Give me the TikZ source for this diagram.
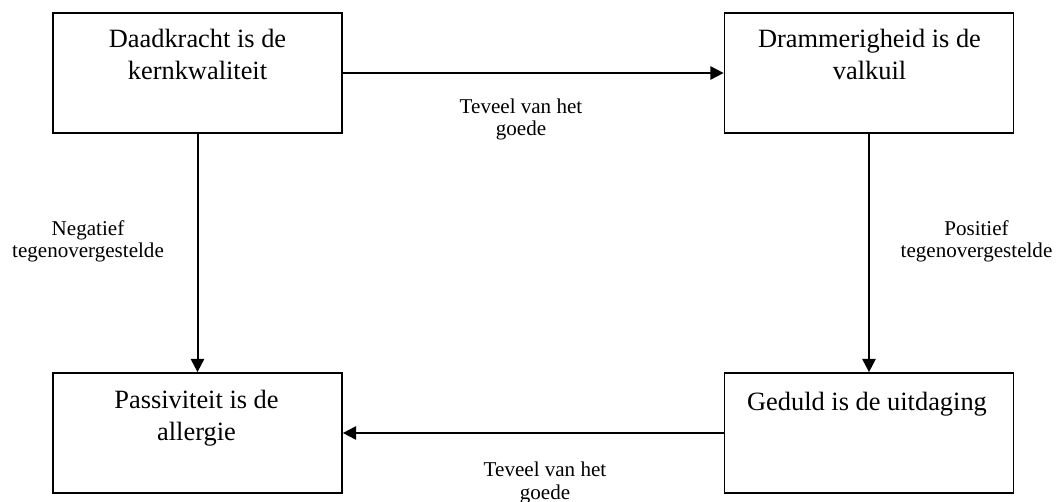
\documentclass[tikz,border=0pt]{standalone}
\usepackage{fontspec}
\setmainfont{Liberation Serif}
\usetikzlibrary{arrows.meta}
\begin{document}
\begin{tikzpicture}[x=0.75pt,y=-0.75pt,
  box/.style={draw, line width=1.3pt, minimum width=216.75pt, minimum height=90pt, inner sep=0pt},
  boxtext/.style={anchor=base, align=center, inner sep=0pt, font=\fontsize{19.8}{24}\selectfont},
  lbl/.style={anchor=base, align=center, inner sep=0pt, font=\fontsize{15.8}{17}\selectfont},
  conn/.style={line width=1.5pt, -{Triangle[length=10pt,width=10pt]}}]
\path[use as bounding box, fill=white] (0,0) rectangle (1057,502);
\node[box] (kern) at (197.5,73) {};
\node[box] (valk) at (869,73) {};
\node[box] (aller) at (197.5,433) {};
\node[box] (uitd) at (869,433) {};
\node[boxtext] (t1) at (197.5,80) {Daadkracht is de\\kernkwaliteit};
\node[boxtext] (t2) at (869.5,80) {Drammerigheid is de\\valkuil};
\node[boxtext] (t3) at (196.5,440) {Passiviteit is de\\allergie};
\node[boxtext] (t4) at (867,410) {Geduld is de uitdaging};
\draw[conn] (kern.east) -- (valk.west);
\draw[conn] (kern.south) -- (aller.north);
\draw[conn] (valk.south) -- (uitd.north);
\draw[conn] (uitd.west) -- (aller.east);
\node[lbl] (l1) at (521,136) {Teveel van het\\goede};
\node[lbl] (l2) at (545,499) {Teveel van het\\goede};
\node[lbl] (l3) at (88,258) {Negatief\\tegenovergestelde};
\node[lbl] (l4) at (976.5,258) {Positief\\tegenovergestelde};
\end{tikzpicture}
\end{document}
